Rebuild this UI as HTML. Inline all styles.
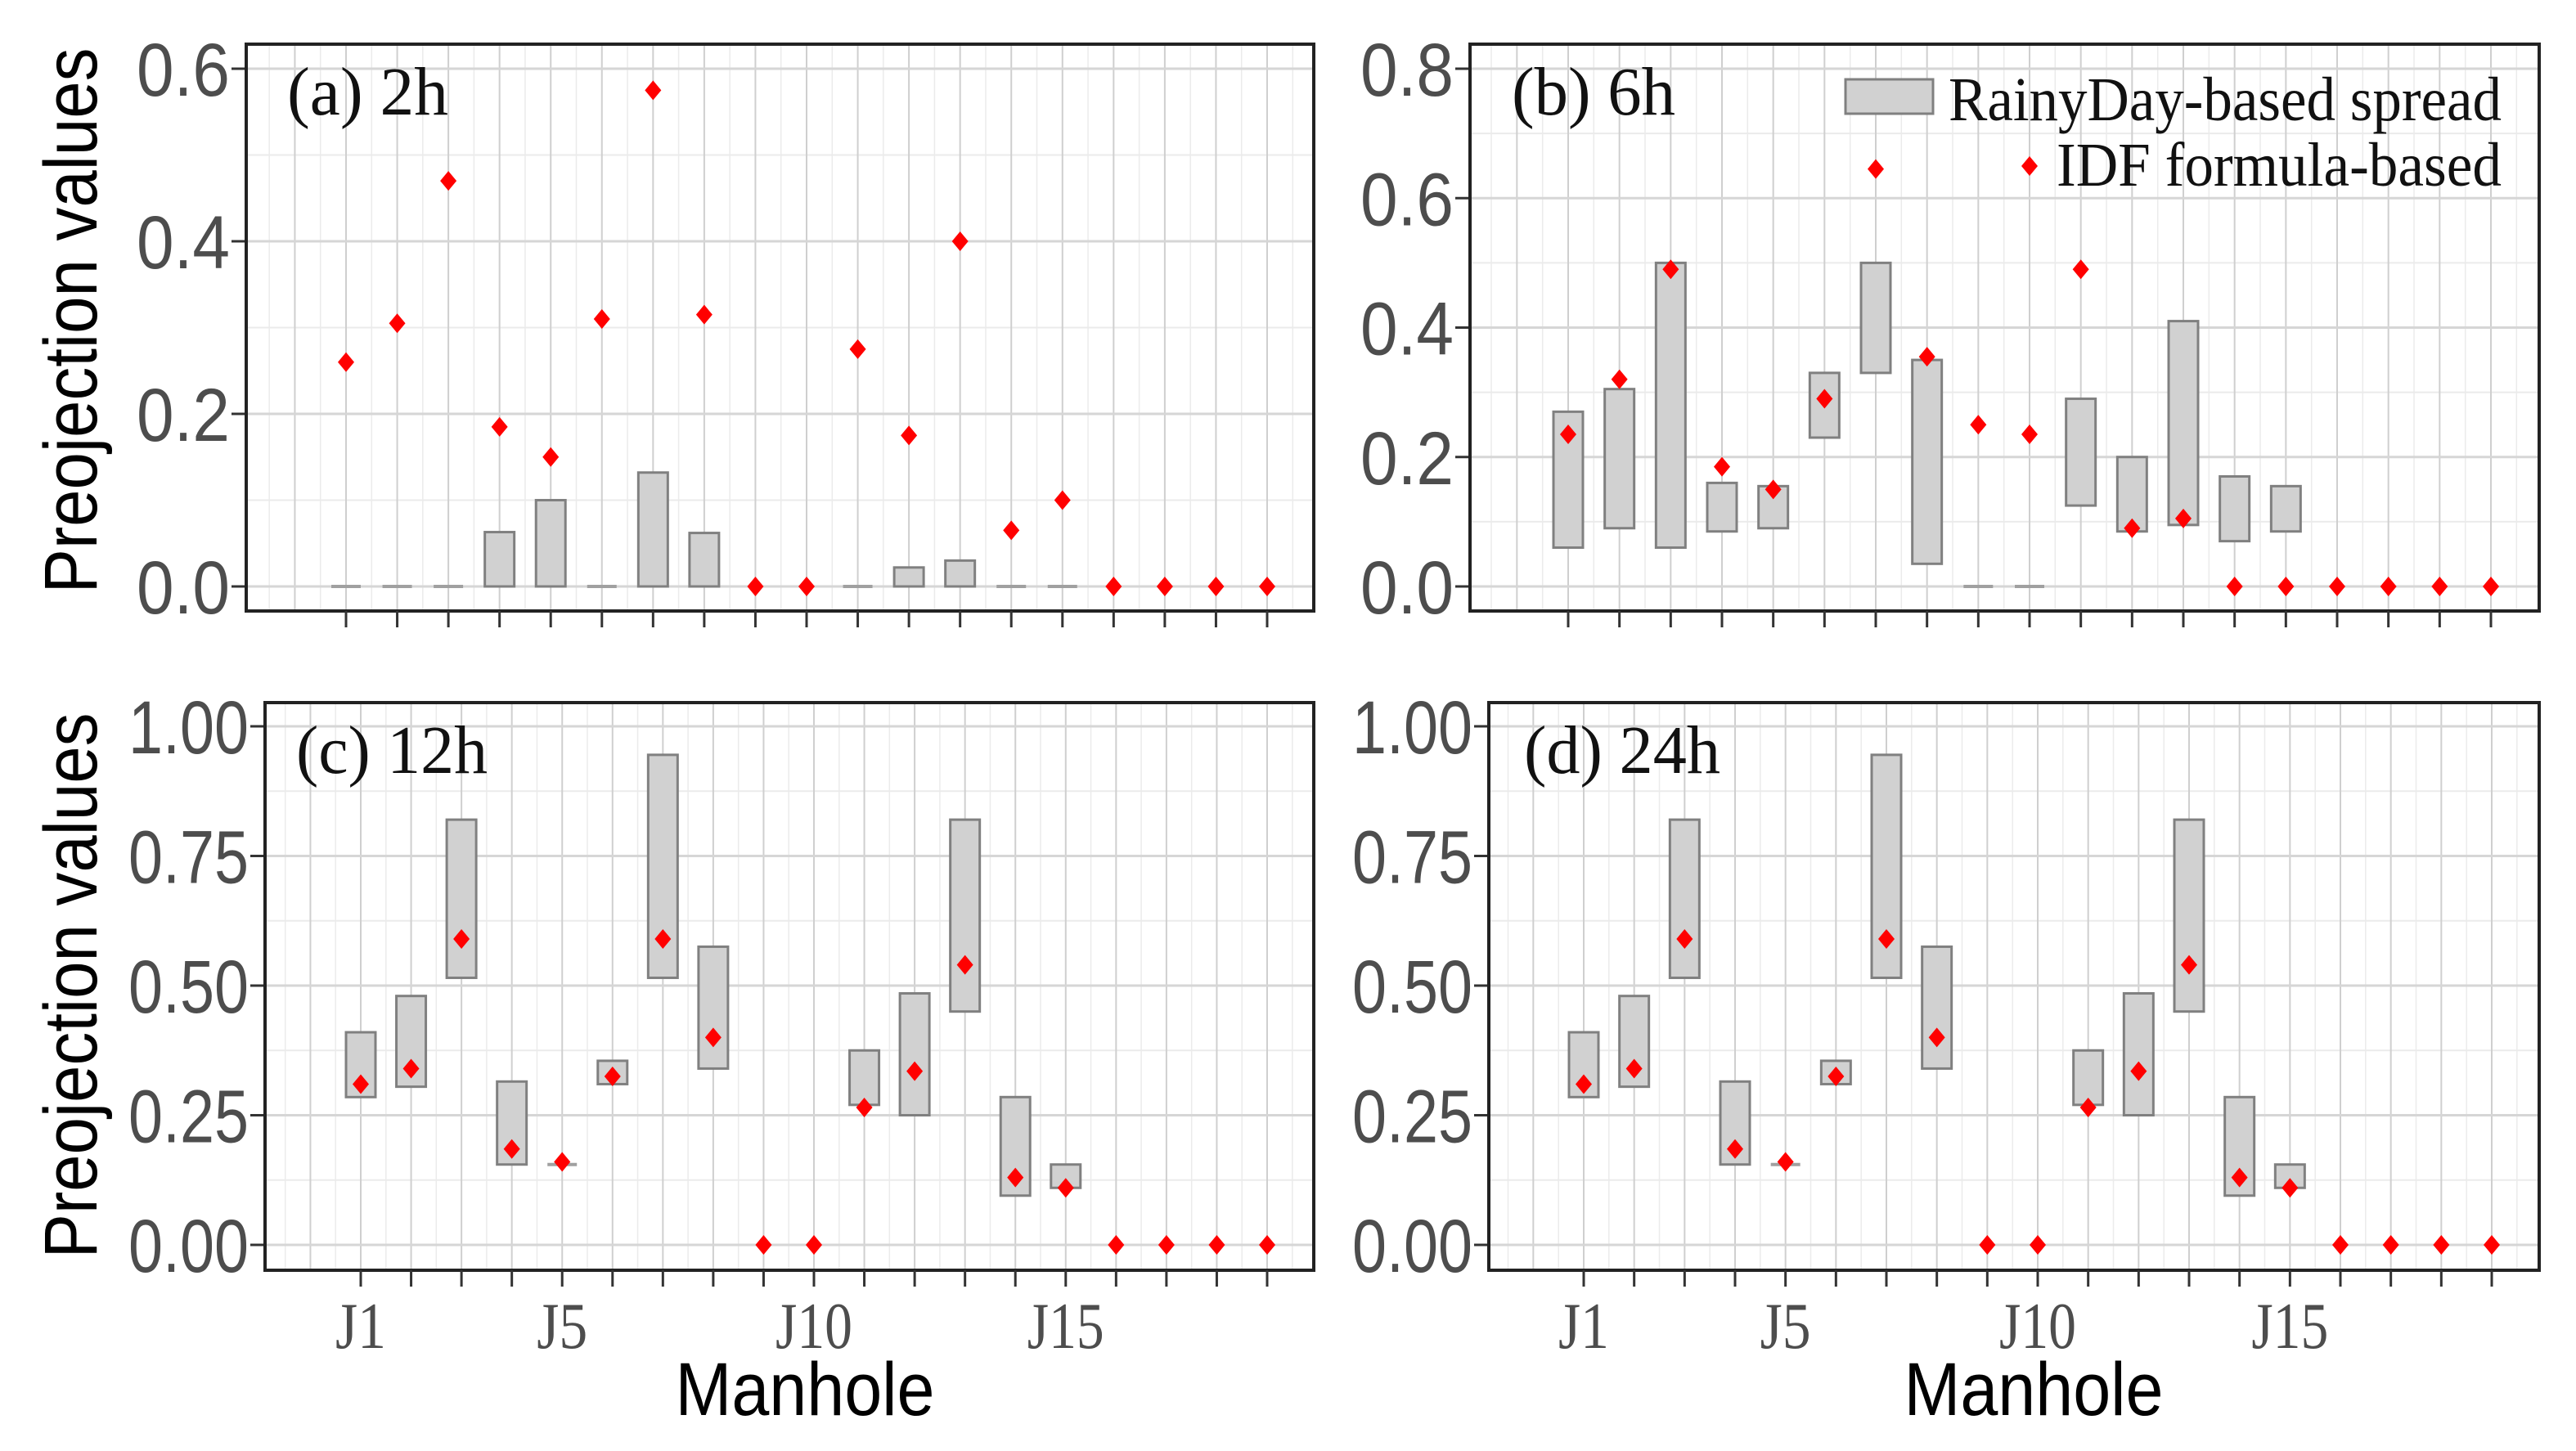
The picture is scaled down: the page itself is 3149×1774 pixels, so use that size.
<!DOCTYPE html>
<html><head><meta charset="utf-8"><style>
html,body{margin:0;padding:0;background:#fff}
svg{display:block}
</style></head><body>
<svg id="chart" width="3149" height="1774" viewBox="0 0 3149 1774" xmlns="http://www.w3.org/2000/svg"></svg>
<script>
const categories = ["J1","J2","J3","J4","J5","J6","J7","J8","J9","J10","J11","J12","J13","J14","J15","J16","J17","J18","J19"];
const xTickLabels = ["J1","J5","J10","J15"];
// panel a (2h)
const idfA = [0.26,0.305,0.47,0.185,0.15,0.31,0.575,0.315,0,0,0.275,0.175,0.4,0.065,0.1,0,0,0,0];
const lowA = [0,0,0,0,0,0,0,0,null,null,0,0,0,0,0,null,null,null,null];
const highA = [0,0,0,0.063,0.1,0,0.132,0.062,null,null,0,0.022,0.03,0,0,null,null,null,null];
const ticksA = ["0.0","0.2","0.4","0.6"];
// panel b (6h)
const idfB = [0.235,0.32,0.49,0.185,0.15,0.29,0.645,0.355,0.25,0.235,0.49,0.09,0.105,0,0,0,0,0,0];
const lowB = [0.06,0.09,0.06,0.085,0.09,0.23,0.33,0.035,0,0,0.125,0.085,0.095,0.07,0.085,null,null,null,null];
const highB = [0.27,0.305,0.5,0.16,0.155,0.33,0.5,0.35,0,0,0.29,0.2,0.41,0.17,0.155,null,null,null,null];
const ticksB = ["0.0","0.2","0.4","0.6","0.8"];
// panel c (12h)
const idfC = [0.31,0.34,0.59,0.185,0.16,0.325,0.59,0.4,0,0,0.265,0.335,0.54,0.13,0.11,0,0,0,0];
const lowC = [0.285,0.305,0.515,0.155,0.155,0.31,0.515,0.34,null,null,0.27,0.25,0.45,0.095,0.11,null,null,null,null];
const highC = [0.41,0.48,0.82,0.315,0.158,0.355,0.945,0.575,null,null,0.375,0.485,0.82,0.285,0.155,null,null,null,null];
const ticksC = ["0.00","0.25","0.50","0.75","1.00"];
// panel d (24h)
const idfD = [0.31,0.34,0.59,0.185,0.16,0.325,0.59,0.4,0,0,0.265,0.335,0.54,0.13,0.11,0,0,0,0];
const lowD = [0.285,0.305,0.515,0.155,0.155,0.31,0.515,0.34,null,null,0.27,0.25,0.45,0.095,0.11,null,null,null,null];
const highD = [0.41,0.48,0.82,0.315,0.158,0.355,0.945,0.575,null,null,0.375,0.485,0.82,0.285,0.155,null,null,null,null];
const ticksD = ["0.00","0.25","0.50","0.75","1.00"];

const NS="http://www.w3.org/2000/svg";
const svg=document.getElementById('chart');
function mk(tag,attrs,parent,text){const e=document.createElementNS(NS,tag);for(const k in attrs)e.setAttribute(k,attrs[k]);if(text!==undefined)e.textContent=text;(parent||svg).appendChild(e);return e;}

function panel(o){
  const g=mk('g',{});
  
  
  const ymax=parseFloat(o.ticks[o.ticks.length-1]);
  const y=v=>o.y0+(o.yTop-o.y0)*(v/ymax);
  const sp=(o.j19-o.j1)/(categories.length-1);
  const x=i=>o.j1+i*sp;
  for(let t=0;t<o.ticks.length-1;t++){
    const v=(parseFloat(o.ticks[t])+parseFloat(o.ticks[t+1]))/2;
    const l=mk('line',{x1:o.L,x2:o.R,y1:y(v),y2:y(v),stroke:'#ebebeb','stroke-width':2},g);
    
    
  }
  for(let k=-4;k<=42;k++){
    const xv=o.j1+k*sp/2;
    if(xv<=o.L+2||xv>=o.R-2)continue;
    const l=mk('line',{x1:xv,x2:xv,y1:o.T,y2:o.B,stroke:k%2===0?'#cfcfcf':'#ebebeb','stroke-width':k%2===0?2:1.5},g);
    
    
  }
  o.ticks.forEach(tl=>{
    const v=parseFloat(tl);
    const l=mk('line',{x1:o.L,x2:o.R,y1:y(v),y2:y(v),stroke:'#d6d6d6','stroke-width':3},g);
    
    
    mk('line',{x1:o.L-18,x2:o.L,y1:y(v),y2:y(v),stroke:'#333','stroke-width':3},g);
    const t=mk('text',{x:o.L-20,y:y(v)+33,'text-anchor':'end','font-family':'Liberation Sans, sans-serif','font-size':92,fill:'#4d4d4d',textLength:tl.length===3?114:147,lengthAdjust:'spacingAndGlyphs'},g,tl);
    
    
  });
  categories.forEach((c,i)=>{
    if(o.low[i]===null)return;
    const y1=y(o.high[i]),y2=y(o.low[i]);
    const h=Math.max(y2-y1,0);
    let r;
    if(h<2){r=mk('line',{x1:x(i)-18,x2:x(i)+18,y1:y2,y2:y2,stroke:'#a0a0a0','stroke-width':4},g);}
    else{r=mk('rect',{x:x(i)-18,y:y1,width:36,height:h,fill:'#d1d1d1',stroke:'#808080','stroke-width':3},g);}
    
    
  });
  categories.forEach((c,i)=>{
    const cx=x(i),cy=y(o.idf[i]);
    const p=mk('polygon',{points:`${cx},${cy-12} ${cx+10},${cy} ${cx},${cy+12} ${cx-10},${cy}`,fill:'#ff0000'},g);
    
    
  });
  const b=mk('rect',{x:o.L,y:o.T,width:o.R-o.L,height:o.B-o.T,fill:'none',stroke:'#222','stroke-width':4},g);
  
  
  categories.forEach((c,i)=>{
    mk('line',{x1:x(i),x2:x(i),y1:o.B,y2:o.B+20,stroke:'#333','stroke-width':3},g);
    if(o.xlabels && xTickLabels.includes(c)){
      const t=mk('text',{x:x(i),y:o.B+95,'text-anchor':'middle','font-family':'Liberation Serif, serif','font-size':80,fill:'#4d4d4d',textLength:c.length===2?62:94,lengthAdjust:'spacingAndGlyphs'},g,c);
      
      
    }
  });
  const pl=mk('text',{x:o.lx,y:o.T+86,'font-family':'Liberation Serif, serif','font-size':84,fill:'#111',textLength:o.lw,lengthAdjust:'spacingAndGlyphs'},g,o.label);
  
  
  return {x,y};
}

panel({name:'panel-a-2h',label:'(a) 2h',L:301,R:1606,T:54,B:747,y0:717,yTop:84,j1:423,j19:1549,ticks:ticksA,idf:idfA,low:lowA,high:highA,lx:351,lw:197,xlabels:false});
panel({name:'panel-b-6h',label:'(b) 6h',L:1797,R:3104,T:54,B:747,y0:717,yTop:84,j1:1917,j19:3045,ticks:ticksB,idf:idfB,low:lowB,high:highB,lx:1848,lw:200,xlabels:false});
panel({name:'panel-c-12h',label:'(c) 12h',L:324,R:1606,T:859,B:1553,y0:1522,yTop:888,j1:441,j19:1549,ticks:ticksC,idf:idfC,low:lowC,high:highC,lx:362,lw:234,xlabels:true});
panel({name:'panel-d-24h',label:'(d) 24h',L:1820,R:3104,T:859,B:1553,y0:1522,yTop:888,j1:1936,j19:3046,ticks:ticksD,idf:idfD,low:lowD,high:highD,lx:1863,lw:240,xlabels:true});

const lg=mk('g',{});


const lr=mk('rect',{x:2256,y:97,width:107,height:42,fill:'#d1d1d1',stroke:'#808080','stroke-width':3},lg);


const lt1=mk('text',{x:2382,y:147,'font-family':'Liberation Serif, serif','font-size':76,fill:'#111',textLength:676,lengthAdjust:'spacingAndGlyphs'},lg,'RainyDay-based spread');


const ld=mk('polygon',{points:'2481,191 2491,203 2481,215 2471,203',fill:'#ff0000'},lg);


const lt2=mk('text',{x:2514,y:227,'font-family':'Liberation Serif, serif','font-size':76,fill:'#111',textLength:544,lengthAdjust:'spacingAndGlyphs'},lg,'IDF formula-based');



[392,1205].forEach(cy=>{
  const t=mk('text',{x:0,y:0,transform:`translate(118,${cy}) rotate(-90)`,'text-anchor':'middle','font-family':'Liberation Sans, sans-serif','font-size':92,fill:'#000',textLength:667,lengthAdjust:'spacingAndGlyphs'},svg,'Preojection values');
  
  
});
[984,2486].forEach(cx=>{
  const t=mk('text',{x:cx,y:1730,'text-anchor':'middle','font-family':'Liberation Sans, sans-serif','font-size':92,fill:'#000',textLength:317,lengthAdjust:'spacingAndGlyphs'},svg,'Manhole');
  
  
});
</script>
</body></html>
